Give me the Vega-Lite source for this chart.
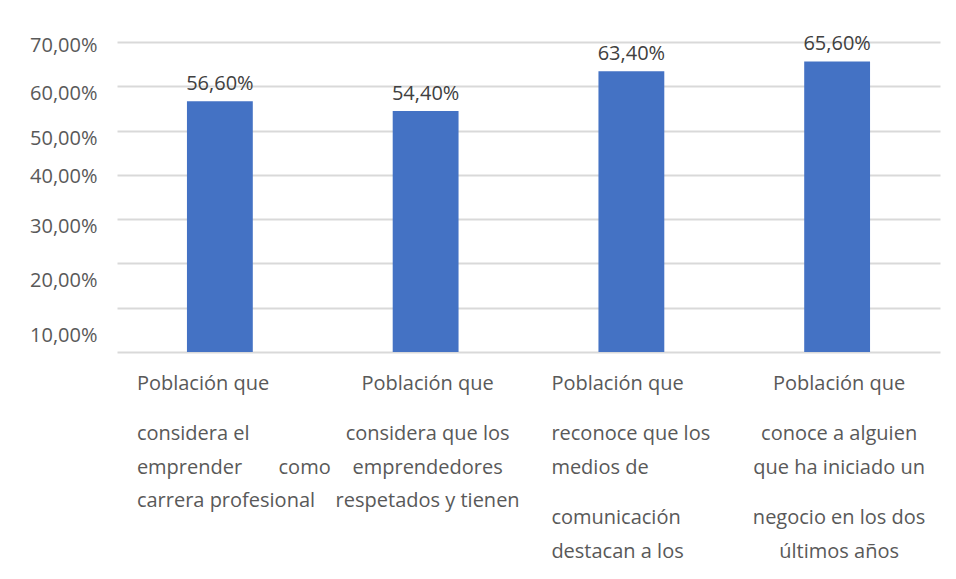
{
  "$schema": "https://vega.github.io/schema/vega-lite/v6.json",
  "width": 823,
  "height": 310,
  "autosize": {"type": "none"},
  "padding": {"left": 117, "top": 42, "right": 16, "bottom": 227},
  "background": "#ffffff",
  "config": {
    "locale": {"number": {"decimal": ",", "thousands": ".", "grouping": [3], "currency": ["", " €"]}},
    "view": {"stroke": null},
    "font": "Open Sans"
  },
  "data": {
    "values": [
      {"ord": 1, "cat": "Población que|\u200b|\u200b|considera el|\u200b|emprender\u00a0\u00a0\u00a0\u00a0\u00a0\u00a0\u00a0como|\u200b|carrera profesional", "value": 0.566},
      {"ord": 2, "cat": "Población que|\u200b|\u200b|considera que los|\u200b|emprendedores|\u200b|respetados y tienen", "value": 0.544},
      {"ord": 3, "cat": "Población que|\u200b|\u200b|reconoce que los|\u200b|medios de|\u200b|\u200b|comunicación|\u200b|destacan a los", "value": 0.634},
      {"ord": 4, "cat": "Población que|\u200b|\u200b|conoce a alguien|\u200b|que ha iniciado un|\u200b|\u200b|negocio en los dos|\u200b|últimos años", "value": 0.656}
    ]
  },
  "encoding": {
    "x": {
      "field": "cat",
      "type": "nominal",
      "sort": {"field": "ord"},
      "title": null,
      "axis": {
        "domain": false,
        "ticks": false,
        "labelAngle": 0,
        "labelExpr": "split(datum.label, '|')",
        "labelFont": "Open Sans",
        "labelFontSize": 20,
        "labelColor": "#595959",
        "labelLineHeight": 16.8,
        "labelPadding": 21,
        "labelBaseline": "top",
        "labelLimit": 0,
        "labelAlign": {"condition": {"test": "indexof(datum.value, 'considera el') >= 0 || indexof(datum.value, 'reconoce') >= 0", "value": "left"}, "value": "center"},
        "labelOffset": {"condition": [{"test": "indexof(datum.value, 'considera el') >= 0", "value": -83}, {"test": "indexof(datum.value, 'reconoce') >= 0", "value": -80}], "value": 2}
      },
      "scale": {"paddingInner": 0.68, "paddingOuter": 0.34}
    },
    "y": {
      "field": "value",
      "type": "quantitative",
      "title": null,
      "scale": {"domain": [0, 0.7], "nice": false},
      "axis": {
        "values": [0, 0.1, 0.2, 0.3, 0.4, 0.5, 0.6, 0.7],
        "format": ".2%",
        "labelExpr": "datum.value == 0 ? '' : datum.label",
        "domain": false,
        "ticks": false,
        "grid": true,
        "gridColor": "#d9d9d9",
        "gridWidth": 2,
        "labelFont": "Open Sans",
        "labelFontSize": 20,
        "labelColor": "#595959",
        "labelPadding": 20,
        "labelOffset": {"condition": [
          {"test": "round(datum.value*100) == 70", "value": 3},
          {"test": "round(datum.value*100) == 60", "value": 7},
          {"test": "round(datum.value*100) == 50", "value": 8},
          {"test": "round(datum.value*100) == 40", "value": 2},
          {"test": "round(datum.value*100) == 30", "value": 7},
          {"test": "round(datum.value*100) == 20", "value": 17},
          {"test": "round(datum.value*100) == 10", "value": 28}
        ], "value": 0}
      }
    }
  },
  "layer": [
    {"mark": {"type": "bar", "color": "#4472c4"}},
    {
      "mark": {"type": "text", "baseline": "bottom", "dy": -7, "fontSize": 20, "font": "Open Sans", "color": "#404040"},
      "encoding": {"text": {"field": "value", "type": "quantitative", "format": ".2%"}}
    }
  ]
}
